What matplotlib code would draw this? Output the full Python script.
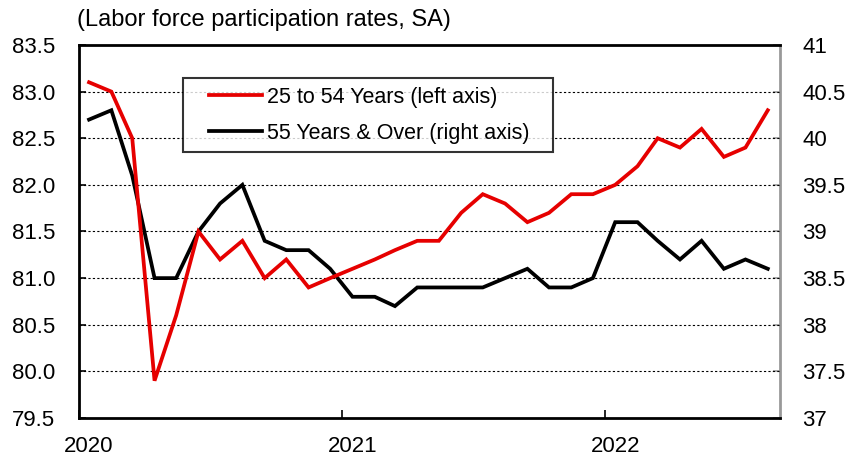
import matplotlib
matplotlib.use("Agg")
import matplotlib.pyplot as plt
from matplotlib.lines import Line2D
from matplotlib.legend_handler import HandlerLine2D
import datetime as dt

plt.rcParams['font.family'] = ['Liberation Sans', 'DejaVu Sans']

months = [dt.date(2020 + (i // 12), i % 12 + 1, 15) for i in range(32)]

prime_age = [83.1, 83.0, 82.5, 79.9, 80.6, 81.5, 81.2, 81.4, 81.0, 81.2, 80.9, 81.0,
             81.1, 81.2, 81.3, 81.4, 81.4, 81.7, 81.9, 81.8, 81.6, 81.7, 81.9, 81.9,
             82.0, 82.2, 82.5, 82.4, 82.6, 82.3, 82.4, 82.8]
over55 = [40.2, 40.3, 39.6, 38.5, 38.5, 39.0, 39.3, 39.5, 38.9, 38.8, 38.8, 38.6,
          38.3, 38.3, 38.2, 38.4, 38.4, 38.4, 38.4, 38.5, 38.6, 38.4, 38.4, 38.5,
          39.1, 39.1, 38.9, 38.7, 38.9, 38.6, 38.7, 38.6]

left_ticks = [79.5, 80.0, 80.5, 81.0, 81.5, 82.0, 82.5, 83.0, 83.5]
right_ticks = [37, 37.5, 38, 38.5, 39, 39.5, 40, 40.5, 41]
year_ticks = [dt.date(2020, 1, 1), dt.date(2021, 1, 1), dt.date(2022, 1, 1)]
year_label_pos = [dt.date(2020, 1, 15), dt.date(2021, 1, 15), dt.date(2022, 1, 15)]
year_labels = ['2020', '2021', '2022']

fig = plt.figure(figsize=(8.51, 4.59), dpi=100)
ax = fig.add_axes([0.0928, 0.0893, 0.8238, 0.8127])
ax2 = ax.twinx()

ax.set_zorder(ax2.get_zorder() + 1)
ax.patch.set_visible(False)

l1, = ax.plot(months, prime_age, color='#e60000', lw=2.7, solid_joinstyle='miter', zorder=3)
l2, = ax2.plot(months, over55, color='black', lw=2.7, solid_joinstyle='miter', zorder=3)

ax.set_xlim(dt.date(2020, 1, 1), dt.date(2022, 9, 1))
ax.set_ylim(79.5, 83.5)
ax2.set_ylim(37, 41)

ax.set_yticks(left_ticks)
ax.set_yticklabels([f'{v:.1f}' for v in left_ticks])
ax2.set_yticks(right_ticks)
ax2.set_yticklabels([f'{v:g}' for v in right_ticks])
ax.set_xticks(year_ticks)
ax.set_xticklabels([''] * len(year_ticks))
ax.set_xticks(year_label_pos, minor=True)
ax.set_xticklabels(year_labels, minor=True)

for v in left_ticks[1:-1]:
    ax.axhline(v, color='black', lw=0.8, ls=(0, (2, 2)), zorder=1)

ax.tick_params(axis='y', direction='in', length=5, width=1.2, labelsize=16, pad=17)
ax.tick_params(axis='x', which='major', direction='in', length=6, width=1.2)
ax.tick_params(axis='x', which='minor', length=0, labelsize=16, pad=13)
ax2.tick_params(axis='y', direction='in', length=5, width=1.2, labelsize=16, pad=16,
                color='#999999')

for s in ['left', 'bottom', 'top']:
    ax.spines[s].set_linewidth(2.0)
    ax.spines[s].set_color('black')
ax.spines['right'].set_visible(False)
for s in ['left', 'bottom', 'top']:
    ax2.spines[s].set_visible(False)
ax2.spines['right'].set_color('#999999')
ax2.spines['right'].set_linewidth(2.0)

leg = ax.legend([l1, l2], ['25 to 54 Years (left axis)', '55 Years & Over (right axis)'],
                loc='upper left', bbox_to_anchor=(0.1484, 0.9115, 0.528, 0.0),
                mode='expand', borderaxespad=0, fontsize=15.5,
                frameon=True, fancybox=False, edgecolor='black',
                handlelength=3.27, handletextpad=0.23,
                borderpad=0.4, labelspacing=0.7,
                handler_map={Line2D: HandlerLine2D(xpad=0.81)})
leg.get_frame().set_linewidth(1.5)

fig.text(0.0905, 0.956, '(Labor force participation rates, SA)', fontsize=17,
         ha='left', va='center')

fig.savefig('out.png', dpi=100)
